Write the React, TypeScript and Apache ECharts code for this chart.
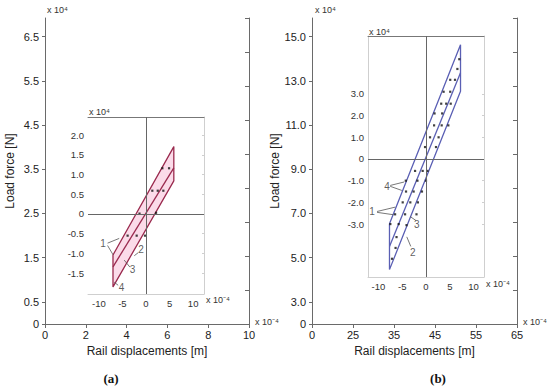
import { useEffect, useRef } from 'react';
import * as echarts from 'echarts';

// ---- outer axes ----
const outerXLabelsA = ['0', '2', '4', '6', '8', '10'];
const outerXLabelsB = ['0', '25', '35', '45', '55', '65'];
const outerYTickPos = [0, 0.5, 1.5, 2.5, 3.5, 4.5, 5.5, 6.5];
const outerYLabelsA = ['0', '0.5', '1.5', '2.5', '3.5', '4.5', '5.5', '6.5'];
const outerYLabelsB = ['0', '3.0', '5.0', '7.0', '9.0', '11.0', '13.0', '15.0'];

// ---- inset axes ----
const insetXTicks = [-10, -5, 0, 5, 10];
const insetYTicksA = [-1.5, -1, -0.5, 0, 0.5, 1, 1.5, 2];
const insetYTicksB = [-3, -2, -1, 0, 1, 2, 3];

// ---- inset (a) hysteresis loop (x 1e-4 m, y 1e4 N) ----
const loopAOuter = [[-7, -1.04], [5.9, 1.71], [5.9, 0.84], [-7, -1.85], [-7, -1.04]];
const loopAMiddle = [[-7, -1.34], [5.9, 1.17]];
const dotsA = [
  [-3.9, -0.55], [-1.98, -0.55], [-0.21, -0.55], [-1.38, 0.01], [2.13, 0.03],
  [1.34, 0.59], [2.49, 0.59], [3.68, 0.59], [3.47, 1.16], [4.89, 1.16],
];
const labelsA = [
  { name: '1', value: [-9.09, -0.76] },
  { name: '2', value: [-1.06, -0.9] },
  { name: '3', value: [-2.83, -1.42] },
  { name: '4', value: [-5.17, -1.86] },
];
const leadersA = [
  [[-8.15, -0.74], [-5.68, -0.62]],
  [[-8.15, -0.8], [-6.96, -1.04]],
  [[-1.64, -0.98], [-2.49, -1.06]],
  [[-3.4, -1.35], [-4.62, -1.17]],
  [[-5.9, -1.81], [-6.74, -1.73]],
];

// ---- inset (b) hysteresis loop ----
const loopBOuter = [[-7.68, -2.98], [7.26, 5.27], [7.26, 3.12], [-7.68, -5.1], [-7.68, -2.98]];
const loopBMiddle = [[-7.68, -4.03], [7.26, 3.98]];
const dotsB = [
  [7.0, 4.6], [6.6, 4.15], [5.1, 3.65], [6.1, 3.65], [3.7, 3.1], [5.1, 3.1],
  [3.2, 2.55], [4.25, 2.55], [5.2, 2.55], [1.8, 2.1], [3.4, 2.1],
  [1.7, 1.55], [3.3, 1.55], [4.7, 1.55], [0.85, 1.0], [2.65, 1.0],
  [-0.2, 0.55], [2.1, 0.55], [-2.3, -0.55], [-0.7, -0.55], [0.3, -0.55],
  [-4.25, -1.0], [-1.8, -1.0], [0, -1.0], [-4.2, -1.5], [-2.6, -1.5], [-0.85, -1.5],
  [-4.9, -2.0], [-3.3, -2.0], [-1.7, -2.0], [-6.5, -2.55], [-4.4, -2.55], [-2.0, -2.55],
  [-7.5, -3.0], [-5.75, -3.0], [-4.1, -3.05], [-6.2, -3.6], [-6.4, -4.1], [-7.15, -4.6],
];
const labelsB = [
  { name: '4', value: [-8.22, -1.26] },
  { name: '1', value: [-11.36, -2.44] },
  { name: '3', value: [-1.95, -3.03] },
  { name: '2', value: [-2.78, -4.29] },
];
const leadersB = [
  [[-7.53, -1.22], [-4.6, -1.06]],
  [[-7.53, -1.26], [-5.08, -1.45]],
  [[-10.3, -2.42], [-6.49, -2.22]],
  [[-10.3, -2.46], [-6.84, -2.57]],
  [[-2.09, -2.84], [-3.35, -2.65]],
  [[-3.2, -4.03], [-4.04, -3.59]],
];

const FONT = 'Liberation Sans, Arial, sans-serif';
const AXIS_DARK = '#6a6a6a';
const AXIS_LIGHT = '#cfcfcf';
const COLOR_A = '#9a2a4e';
const COLOR_B = '#5a5fb4';

function fmtInset(v: number) {
  return v === 0 ? '0' : v.toFixed(1);
}

function outerAxes(grid: number, xLabels: string[], yLabels: string[], nameGapY: number) {
  const xs = [
    {
      type: 'category', gridIndex: grid, position: 'bottom', data: xLabels, boundaryGap: false,
      axisLine: { lineStyle: { color: AXIS_DARK } },
      axisTick: { show: false },
      axisLabel: { color: '#222', fontSize: 11, fontFamily: FONT, margin: 5 },
      name: 'Rail displacements [m]', nameLocation: 'middle', nameGap: 19,
      nameTextStyle: { color: '#222', fontSize: 12, fontFamily: FONT },
    },
    {
      type: 'category', gridIndex: grid, position: 'top', data: xLabels, boundaryGap: false,
      axisLine: { lineStyle: { color: AXIS_DARK } },
      axisTick: { show: true, inside: true, length: 4, lineStyle: { color: AXIS_DARK } },
      axisLabel: { show: false },
    },
  ];
  const ys = [
    {
      type: 'value', gridIndex: grid, position: 'left', min: 0, max: 6.92,
      axisLine: { show: true, lineStyle: { color: AXIS_DARK } },
      axisTick: { show: true, length: 3, customValues: outerYTickPos, lineStyle: { color: AXIS_DARK } },
      axisLabel: {
        customValues: outerYTickPos, color: '#222', fontSize: 11, fontFamily: FONT, margin: 6,
        formatter: (v: number) => {
          const i = outerYTickPos.findIndex((p) => Math.abs(p - v) < 1e-6);
          return i >= 0 ? yLabels[i] : '';
        },
      },
      splitLine: { show: false },
      name: 'Load force [N]', nameLocation: 'middle', nameGap: nameGapY,
      nameTextStyle: { color: '#222', fontSize: 12, fontFamily: FONT },
    },
    {
      type: 'value', gridIndex: grid, position: 'right', min: 0, max: 9, interval: 1,
      axisLine: { show: true, lineStyle: { color: AXIS_DARK } },
      axisTick: { show: true, inside: true, length: 4, lineStyle: { color: AXIS_DARK } },
      axisLabel: { show: false },
      splitLine: { show: false },
    },
  ];
  return { xs, ys };
}

function insetAxes(grid: number, xMin: number, xMax: number, yMin: number, yMax: number, yTicks: number[], showLeftLine: boolean) {
  const xs = [
    {
      type: 'value', gridIndex: grid, position: 'bottom', min: xMin, max: xMax,
      axisLine: { show: true, onZero: false, lineStyle: { color: AXIS_LIGHT } },
      axisTick: { show: false },
      axisLabel: {
        customValues: insetXTicks, color: '#333', fontSize: 9.5, fontFamily: FONT, margin: 4,
        formatter: (v: number) => String(v),
      },
      splitLine: { show: false },
    },
    {
      type: 'value', gridIndex: grid, position: 'top', min: xMin, max: xMax,
      axisLine: { show: true, onZero: false, lineStyle: { color: '#777' } },
      axisTick: { show: false },
      axisLabel: { show: false },
      splitLine: { show: false },
    },
  ];
  const ys = [
    {
      type: 'value', gridIndex: grid, position: 'left', min: yMin, max: yMax,
      axisLine: { show: showLeftLine, onZero: false, lineStyle: { color: AXIS_LIGHT } },
      axisTick: { show: false },
      axisLabel: {
        customValues: yTicks, color: '#333', fontSize: 9.5, fontFamily: FONT, margin: 4,
        formatter: (v: number) => fmtInset(v),
      },
      splitLine: { show: false },
    },
    {
      type: 'value', gridIndex: grid, position: 'right', min: yMin, max: yMax,
      axisLine: { show: true, onZero: false, lineStyle: { color: AXIS_LIGHT } },
      axisTick: { show: true, inside: true, length: 2, customValues: yTicks, lineStyle: { color: AXIS_LIGHT } },
      axisLabel: { show: false },
      splitLine: { show: false },
    },
  ];
  return { xs, ys };
}

function loopSeries(axisIdx: number, outer: number[][], middle: number[][], dots: number[][], labels: any[], leaders: number[][][], color: string, fill: string | null) {
  const s: any[] = [];
  if (fill) {
    s.push({
      type: 'custom', xAxisIndex: axisIdx, yAxisIndex: axisIdx, data: [0], silent: true, z: 1,
      renderItem: (_p: any, api: any) => ({
        type: 'polygon',
        shape: { points: outer.map((pt) => api.coord(pt)) },
        style: { fill },
      }),
    });
  }
  s.push({
    type: 'line', xAxisIndex: axisIdx, yAxisIndex: axisIdx, data: outer, symbol: 'none', z: 3,
    lineStyle: { color, width: 1.3 },
    markLine: {
      silent: true, symbol: 'none', label: { show: false },
      lineStyle: { color: '#666', width: 1, type: 'solid' },
      data: [{ xAxis: 0 }, { yAxis: 0 }],
    },
  });
  s.push({
    type: 'line', xAxisIndex: axisIdx, yAxisIndex: axisIdx, data: middle, symbol: 'none', z: 3,
    lineStyle: { color, width: 1.3 },
  });
  s.push({
    type: 'scatter', xAxisIndex: axisIdx, yAxisIndex: axisIdx, data: dots, symbol: 'rect', symbolSize: 2.2, z: 4,
    itemStyle: { color: '#111' },
  });
  s.push({
    type: 'lines', coordinateSystem: 'cartesian2d', xAxisIndex: axisIdx, yAxisIndex: axisIdx, z: 4,
    data: leaders.map((c) => ({ coords: c })),
    lineStyle: { color: '#555', width: 0.8, opacity: 1 },
  });
  s.push({
    type: 'scatter', xAxisIndex: axisIdx, yAxisIndex: axisIdx, data: labels, symbolSize: 1, z: 5,
    itemStyle: { color: 'rgba(0,0,0,0)' },
    label: { show: true, position: 'inside', formatter: '{b}', color: '#333', fontSize: 10, fontFamily: FONT },
  });
  return s;
}

export default function App() {
  const ref = useRef<HTMLDivElement>(null);
  useEffect(() => {
    if (!ref.current) return;
    const chart = echarts.init(ref.current, null, { renderer: 'svg' });
    const oA = outerAxes(0, outerXLabelsA, outerYLabelsA, 29);
    const iA = insetAxes(1, -12.3, 12.3, -2.03, 2.46, insetYTicksA, false);
    const oB = outerAxes(2, outerXLabelsB, outerYLabelsB, 23);
    const iB = insetAxes(3, -12.2, 12.2, -5.44, 5.67, insetYTicksB, true);
    const small = { fontSize: 9, fill: '#333', fontFamily: FONT };
    chart.setOption({
      animation: false,
      backgroundColor: '#fff',
      grid: [
        { left: 45, top: 18, width: 204, height: 306 },
        { left: 88, top: 117, width: 116, height: 177 },
        { left: 312, top: 18, width: 205, height: 306 },
        { left: 368, top: 36, width: 116, height: 241 },
      ],
      xAxis: [...oA.xs, ...iA.xs, ...oB.xs, ...iB.xs],
      yAxis: [...oA.ys, ...iA.ys, ...oB.ys, ...iB.ys],
      series: [
        ...loopSeries(2, loopAOuter, loopAMiddle, dotsA, labelsA, leadersA, COLOR_A, '#fbdbe9'),
        ...loopSeries(6, loopBOuter, loopBMiddle, dotsB, labelsB, leadersB, COLOR_B, null),
      ],
      graphic: [
        { type: 'text', x: 47, y: 10, style: { ...small, text: 'x 10⁴', verticalAlign: 'middle' } },
        { type: 'text', x: 255, y: 322, style: { ...small, text: 'x 10⁻⁴', verticalAlign: 'middle' } },
        { type: 'text', x: 89, y: 112, style: { ...small, text: 'x 10⁴', verticalAlign: 'middle' } },
        { type: 'text', x: 206, y: 300, style: { ...small, text: 'x 10⁻⁴', verticalAlign: 'middle' } },
        { type: 'text', x: 315, y: 10, style: { ...small, text: 'x 10⁴', verticalAlign: 'middle' } },
        { type: 'text', x: 523, y: 322, style: { ...small, text: 'x 10⁻⁴', verticalAlign: 'middle' } },
        { type: 'text', x: 369, y: 32, style: { ...small, text: 'x 10⁴', verticalAlign: 'middle' } },
        { type: 'text', x: 486, y: 284, style: { ...small, text: 'x 10⁻⁴', verticalAlign: 'middle' } },
        { type: 'text', x: 111, y: 378, style: { text: '(a)', fontSize: 13, fontWeight: 'bold', fontFamily: 'Liberation Serif, serif', fill: '#111', align: 'center', verticalAlign: 'middle' } },
        { type: 'text', x: 438, y: 378, style: { text: '(b)', fontSize: 13, fontWeight: 'bold', fontFamily: 'Liberation Serif, serif', fill: '#111', align: 'center', verticalAlign: 'middle' } },
      ],
    });
    return () => chart.dispose();
  }, []);
  return <div ref={ref} style={{ position: 'absolute', left: 0, top: 0, width: 550, height: 388 }} />;
}
